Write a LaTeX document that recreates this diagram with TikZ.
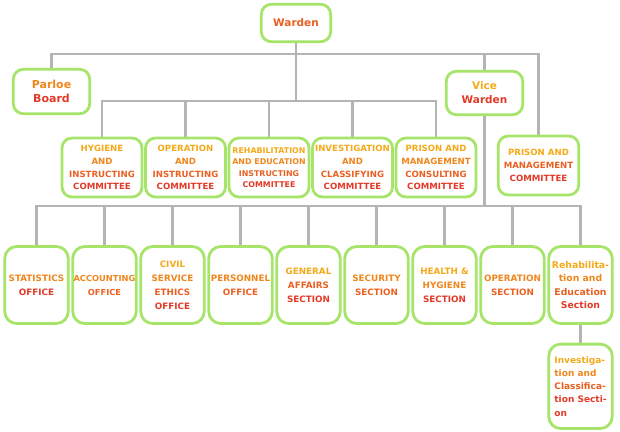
\documentclass[tikz,border=0pt]{standalone}
\usepackage{fontspec}
\setmainfont{DejaVu Sans}
\usepackage{xcolor}
\usepackage{tikz}
\usetikzlibrary{positioning, backgrounds}

\definecolor{boxgreen}{RGB}{166,228,106}
\definecolor{linegray}{RGB}{180,180,180}
\definecolor{cA}{RGB}{244,170,24}
\definecolor{cB}{RGB}{240,134,28}
\definecolor{cC}{RGB}{234,96,34}
\definecolor{cD}{RGB}{226,58,40}

\begin{document}
\begin{tikzpicture}[
    x=1pt, y=1pt,
    every node/.style={font=\bfseries\fontsize{8.6}{12.8}\selectfont},
    unit/.style={draw=boxgreen, line width=2.8pt, rounded corners=10pt, fill=white, align=center, inner sep=0.5pt, outer sep=0pt},
    head/.style={unit, minimum width=#1, font=\bfseries\fontsize{10.5}{14}\selectfont},
    cmte/.style={unit, minimum width=80pt, minimum height=59pt},
    office/.style={unit, minimum width=63.5pt, minimum height=77pt, rounded corners=12pt, font=\bfseries\fontsize{8.8}{14}\selectfont},
    link/.style={draw=linegray, line width=2.7pt},
  ]
  \useasboundingbox (0,0) rectangle (620,-431);

  % --- Top ---
  \node[head=69.4pt, minimum height=37.4pt] (warden) at (296,-23) {\textcolor{cC}{Warden}};
  \node[head=76.4pt, minimum height=44.4pt, font=\bfseries\fontsize{11}{14}\selectfont] (parloe) at (51.5,-91.5) {\textcolor{cB}{Parloe}\\\textcolor{cD}{Board}};
  \node[head=76.4pt, minimum height=43.4pt] (vice) at (484.5,-93) {\textcolor{cA}{Vice}\\\textcolor{cD}{Warden}};

  % --- Committees ---
  \node[cmte] (hyg) at (102,-167.5) {\textcolor{cA}{HYGIENE}\\\textcolor{cB}{AND}\\\textcolor{cC}{INSTRUCTING}\\\textcolor{cD}{COMMITTEE}};
  \node[cmte, right=3.5pt of hyg] (opc) {\textcolor{cA}{OPERATION}\\\textcolor{cB}{AND}\\\textcolor{cC}{INSTRUCTING}\\\textcolor{cD}{COMMITTEE}};
  \node[cmte, right=3.5pt of opc, font=\bfseries\fontsize{7.9}{11.5}\selectfont] (rehc) {\textcolor{cA}{REHABILITATION}\\\textcolor{cB}{AND EDUCATION}\\\textcolor{cC}{INSTRUCTING}\\\textcolor{cD}{COMMITTEE}};
  \node[cmte, right=3.5pt of rehc] (invc) {\textcolor{cA}{INVESTIGATION}\\\textcolor{cB}{AND}\\\textcolor{cC}{CLASSIFYING}\\\textcolor{cD}{COMMITTEE}};
  \node[cmte, right=3.5pt of invc] (pmcc) {\textcolor{cA}{PRISON AND}\\\textcolor{cB}{MANAGEMENT}\\\textcolor{cC}{CONSULTING}\\\textcolor{cD}{COMMITTEE}};
  \node[cmte, minimum width=80.5pt] (pmc) at (538.5,-165.5) {\textcolor{cA}{PRISON AND}\\\textcolor{cC}{MANAGEMENT}\\\textcolor{cD}{COMMITTEE}};

  % --- Offices and Sections ---
  \node[office] (stat) at (36.5,-285) {\textcolor{cB}{STATISTICS}\\\textcolor{cD}{OFFICE}};
  \node[office, right=4.5pt of stat, font=\bfseries\fontsize{8.3}{14}\selectfont] (acc) {\textcolor{cB}{ACCOUNTING}\\\textcolor{cC}{OFFICE}};
  \node[office, right=4.5pt of acc] (civil) {\textcolor{cA}{CIVIL}\\\textcolor{cB}{SERVICE}\\\textcolor{cC}{ETHICS}\\\textcolor{cD}{OFFICE}};
  \node[office, right=4.5pt of civil] (pers) {\textcolor{cB}{PERSONNEL}\\\textcolor{cC}{OFFICE}};
  \node[office, right=4.5pt of pers] (gen) {\textcolor{cA}{GENERAL}\\\textcolor{cC}{AFFAIRS}\\\textcolor{cD}{SECTION}};
  \node[office, right=4.5pt of gen] (sec) {\textcolor{cB}{SECURITY}\\\textcolor{cC}{SECTION}};
  \node[office, right=4.5pt of sec] (health) {\textcolor{cA}{HEALTH \&}\\\textcolor{cB}{HYGIENE}\\\textcolor{cD}{SECTION}};
  \node[office, right=4.5pt of health] (ops) {\textcolor{cB}{OPERATION}\\\textcolor{cC}{SECTION}};
  \node[office, right=4.5pt of ops, font=\bfseries\fontsize{9.3}{13.5}\selectfont] (rehs) {\textcolor{cA}{Rehabilita-}\\\textcolor{cB}{tion and}\\\textcolor{cC}{Education}\\\textcolor{cD}{Section}};
  \node[office, below=20.6pt of rehs, minimum height=84.4pt, align=left, font=\bfseries\fontsize{9}{13.2}\selectfont] (invs) {\textcolor{cA}{Investiga-}\\\textcolor{cB}{tion and}\\\textcolor{cC}{Classifica-}\\\textcolor{cD}{tion Secti-}\\\textcolor{cD}{on}};

  % --- Lines ---
  \begin{scope}[on background layer]
    \draw[link] (warden.south) -- ++(0,-12.3) -| (parloe.north);
    \draw[link] (warden.south) -- ++(0,-12.3) -| (vice.north);
    \draw[link] (warden.south) -- ++(0,-12.3) -| (pmc.north);

    \foreach \c in {hyg, opc, rehc, invc, pmcc}
      \draw[link] (warden.south) -- ++(0,-59.3) -| (\c.north);

    \foreach \o in {stat, acc, civil, pers, gen, sec, health, ops, rehs}
      \draw[link] (vice.south) -- ++(0,-91.3) -| (\o.north);

    \draw[link] (rehs.south) -- (invs.north);
  \end{scope}

\end{tikzpicture}
\end{document}
